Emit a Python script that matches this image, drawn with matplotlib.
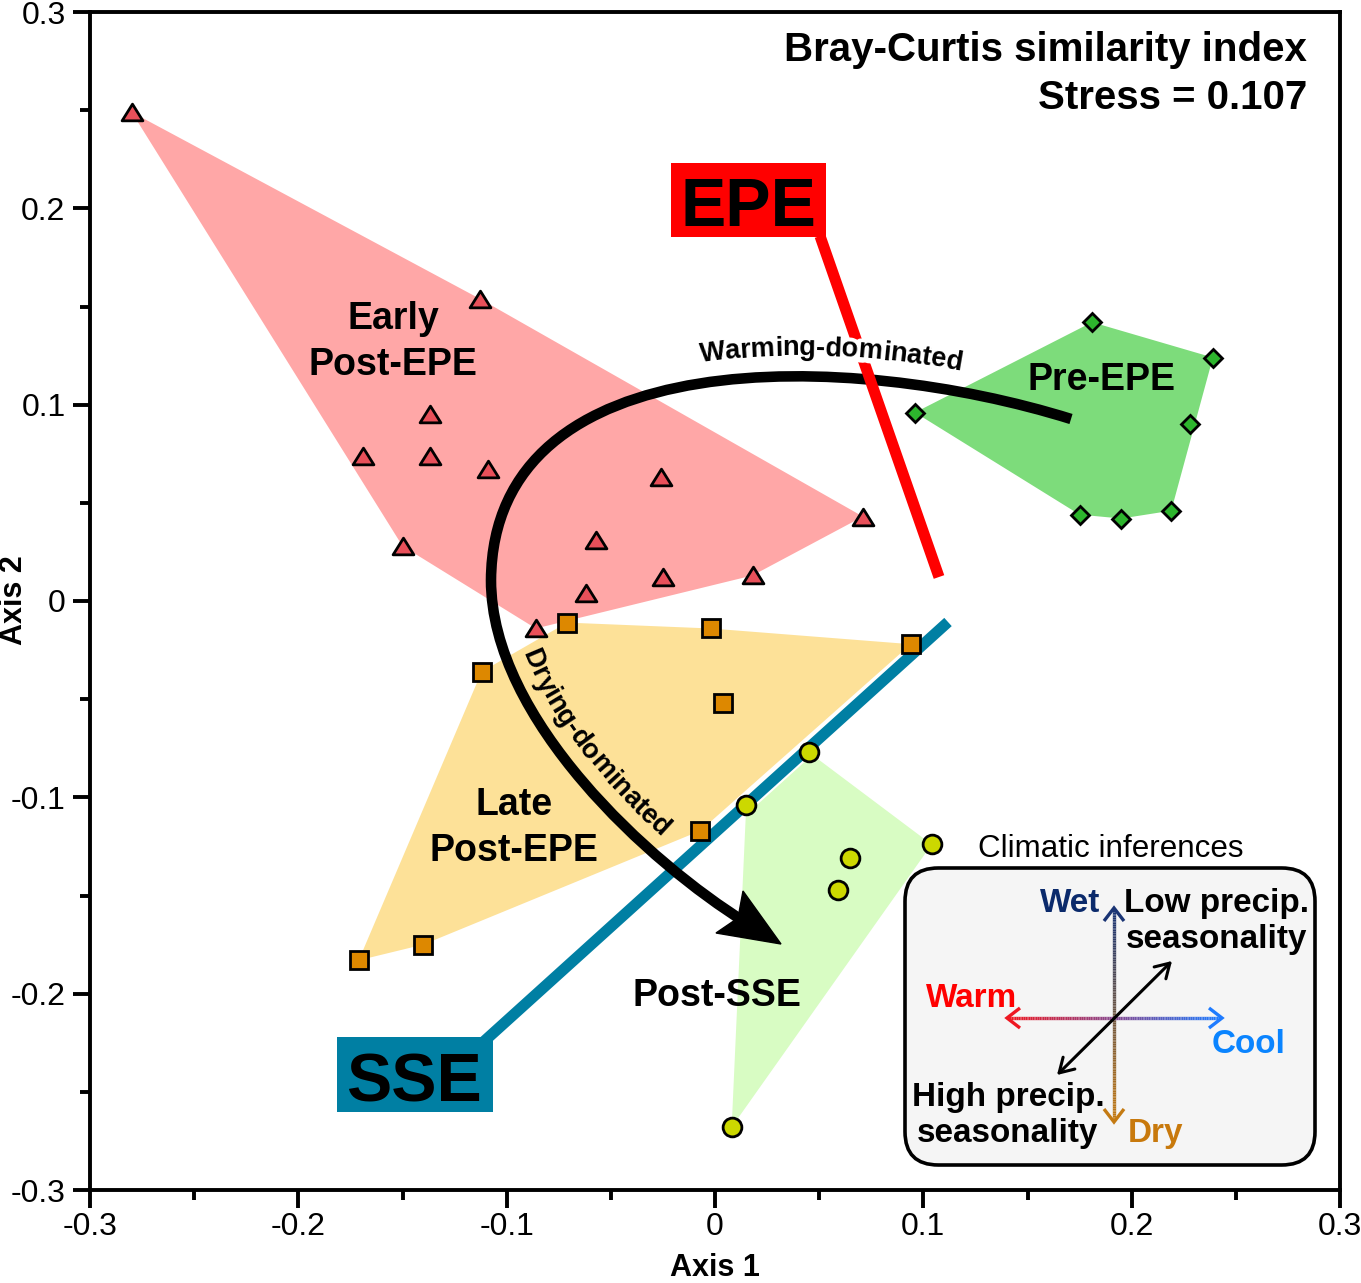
import numpy as np
import matplotlib
matplotlib.use("Agg")
import matplotlib.pyplot as plt
import matplotlib.patheffects as pe
from matplotlib.path import Path
from matplotlib.patches import PathPatch, Polygon, Rectangle, FancyBboxPatch
from matplotlib.collections import LineCollection
from matplotlib.textpath import TextToPath
from matplotlib.font_manager import FontProperties, fontManager
from matplotlib.colors import to_rgb

# ---------------- data ----------------
EARLY_X = [-0.280, -0.113, -0.137, -0.169, -0.137, -0.109, -0.150, -0.026, -0.057, 0.071, -0.062, -0.025, 0.018, -0.086]
EARLY_Y = [0.249, 0.154, 0.095, 0.074, 0.074, 0.067, 0.028, 0.063, 0.031, 0.043, 0.004, 0.012, 0.013, -0.014]
LATE_X = [-0.071, -0.002, 0.094, -0.112, 0.004, -0.007, -0.140, -0.171]
LATE_Y = [-0.011, -0.014, -0.022, -0.036, -0.052, -0.117, -0.175, -0.183]
POST_X = [0.045, 0.015, 0.104, 0.065, 0.059, 0.008]
POST_Y = [-0.077, -0.104, -0.124, -0.131, -0.147, -0.268]
PRE_X = [0.181, 0.239, 0.096, 0.228, 0.175, 0.195, 0.219]
PRE_Y = [0.142, 0.124, 0.096, 0.090, 0.044, 0.042, 0.046]

X_TICKS = [-0.3, -0.2, -0.1, 0.0, 0.1, 0.2, 0.3]
X_TICK_LABELS = ["-0.3", "-0.2", "-0.1", "0", "0.1", "0.2", "0.3"]
Y_TICKS = [-0.3, -0.2, -0.1, 0.0, 0.1, 0.2, 0.3]
Y_TICK_LABELS = ["-0.3", "-0.2", "-0.1", "0", "0.1", "0.2", "0.3"]
MINOR_TICKS = [-0.25, -0.15, -0.05, 0.05, 0.15, 0.25]

STAT_LINES = ["Bray-Curtis similarity index", "Stress = 0.107"]

# ---------------- figure ----------------
W, H, DPI = 1361, 1283, 100
plt.rcParams['font.family'] = ['Liberation Sans', 'DejaVu Sans']
fig = plt.figure(figsize=(W / DPI, H / DPI), dpi=DPI)
AX_L, AX_R, AX_T, AX_B = 90, 1340, 12, 1190
ax = fig.add_axes([AX_L / W, 1 - AX_B / H, (AX_R - AX_L) / W, (AX_B - AX_T) / H])
XMIN, XMAX, YMIN, YMAX = -0.3, 0.3, -0.3, 0.3
ax.set_xlim(XMIN, XMAX)
ax.set_ylim(YMIN, YMAX)


def px2d(px, py):
    return (XMIN + (px - AX_L) / (AX_R - AX_L) * (XMAX - XMIN),
            YMAX - (py - AX_T) / (AX_B - AX_T) * (YMAX - YMIN))


names = {f.name for f in fontManager.ttflist}
HAS_NARROW = 'Liberation Sans Narrow' in names


def narrow_bold(size, fallback=0.84):
    if HAS_NARROW:
        return FontProperties(family='Liberation Sans Narrow', weight='bold', size=size)
    return FontProperties(family='Liberation Sans', weight='bold', size=size * fallback)


# ---------------- hulls ----------------
def hull(xs, ys):
    pts = sorted(set(zip(xs, ys)))

    def cross(o, a, b):
        return (a[0] - o[0]) * (b[1] - o[1]) - (a[1] - o[1]) * (b[0] - o[0])
    lower, upper = [], []
    for p in pts:
        while len(lower) >= 2 and cross(lower[-2], lower[-1], p) <= 0:
            lower.pop()
        lower.append(p)
    for p in reversed(pts):
        while len(upper) >= 2 and cross(upper[-2], upper[-1], p) <= 0:
            upper.pop()
        upper.append(p)
    return lower[:-1] + upper[:-1]


for xs, ys, col in [(EARLY_X, EARLY_Y, '#FFA7A7'), (LATE_X, LATE_Y, '#FDE198'),
                    (PRE_X, PRE_Y, '#7DDC7B'), (POST_X, POST_Y, '#D8FCC3')]:
    ax.add_patch(Polygon(hull(xs, ys), closed=True, facecolor=col, edgecolor='none', zorder=1))

# ---------------- EPE / SSE lines ----------------
e0, e1 = px2d(820, 236), px2d(939, 577)
ax.plot([e0[0], e1[0]], [e0[1], e1[1]], color='#FF0000', lw=8, solid_capstyle='butt', zorder=3.5)
s0, s1 = px2d(948, 622), px2d(480, 1045)
ax.plot([s0[0], s1[0]], [s0[1], s1[1]], color='#007FA3', lw=8, solid_capstyle='butt', zorder=2,
        path_effects=[pe.Stroke(linewidth=11, foreground='white'), pe.Normal()])

# ---------------- curved arrow ----------------
P0, C1, C2, P3 = (1071, 419), (850, 350), (493, 340), (491, 580)
D1, D2, P4 = (491, 720), (651.6, 864), (745, 922)
verts = [px2d(*p) for p in [P0, C1, C2, P3, D1, D2, P4]]
codes = [Path.MOVETO] + [Path.CURVE4] * 6
ax.add_patch(PathPatch(Path(verts, codes), facecolor='none', edgecolor='black', lw=7.6,
                       capstyle='butt', zorder=3))
head = [px2d(*p) for p in [(781, 944), (716, 933), (738, 918), (743, 891)]]
ax.add_patch(Polygon(head, closed=True, facecolor='black', edgecolor='black', lw=1, zorder=3))


def bez(p0, p1, p2, p3, n=800):
    p0, p1, p2, p3 = map(np.asarray, (p0, p1, p2, p3))
    t = np.linspace(0, 1, n)[:, None]
    return ((1 - t) ** 3) * p0 + 3 * ((1 - t) ** 2) * t * p1 + 3 * (1 - t) * (t ** 2) * p2 + (t ** 3) * p3


TTP = TextToPath()


def wpx(s, fp):
    if not s:
        return 0.0
    w, _, _ = TTP.get_text_width_height_descent(s, fp, ismath=False)
    return w * DPI / 72.0


def offset_curve(pts, off):
    g = np.gradient(pts, axis=0)
    g = g / np.hypot(g[:, 0], g[:, 1])[:, None]
    n = np.stack([g[:, 1], -g[:, 0]], axis=1)
    return pts + off * n


def text_on_curve(s, pts, start, fp, color='black', halo=False, z=6):
    d = np.diff(pts, axis=0)
    cum = np.concatenate([[0.0], np.cumsum(np.hypot(d[:, 0], d[:, 1]))])
    i0 = np.argmin(np.hypot(pts[:, 0] - start[0], pts[:, 1] - start[1]))
    s0 = cum[i0]
    for k, ch in enumerate(s):
        sc = s0 + 0.5 * (wpx(s[:k], fp) + wpx(s[:k + 1], fp))
        x = np.interp(sc, cum, pts[:, 0])
        y = np.interp(sc, cum, pts[:, 1])
        xa, ya = np.interp(sc - 3, cum, pts[:, 0]), np.interp(sc - 3, cum, pts[:, 1])
        xb, yb = np.interp(sc + 3, cum, pts[:, 0]), np.interp(sc + 3, cum, pts[:, 1])
        ang = np.degrees(np.arctan2(-(yb - ya), xb - xa))
        dx, dy = px2d(x, y)
        kw = dict(rotation=ang, rotation_mode='anchor', ha='center', va='baseline', fontproperties=fp)
        if halo:
            ax.text(dx, dy, ch, color='white', zorder=z - 0.5,
                    path_effects=[pe.withStroke(linewidth=7, foreground='white')], **kw)
        ax.text(dx, dy, ch, color=color, zorder=z, **kw)


seg1 = bez(P0, C1, C2, P3)[::-1]
seg2 = bez(P3, D1, D2, P4)
text_on_curve("Warming-dominated", offset_curve(seg1, 21), (700, 360), narrow_bold(23, 0.85), halo=True)
text_on_curve("Drying-dominated", offset_curve(seg2, 17), (526, 652), narrow_bold(23, 0.85))

# ---------------- markers ----------------
tri = Path([(-1, -0.8), (1, -0.8), (0, 0.8), (0, 0)],
           [Path.MOVETO, Path.LINETO, Path.LINETO, Path.CLOSEPOLY])
ax.plot(EARLY_X, EARLY_Y, ls='none', marker=tri, ms=15, mfc='#E8505A', mec='black', mew=2.0, zorder=4)
ax.plot(LATE_X, LATE_Y, ls='none', marker='s', ms=12.7, mfc='#DD8800', mec='black', mew=2.0, zorder=4)
ax.plot(POST_X, POST_Y, ls='none', marker='o', ms=13.5, mfc='#CCD800', mec='black', mew=2.0, zorder=4)
ax.plot(PRE_X, PRE_Y, ls='none', marker='D', ms=8.7, mfc='#2DB52D', mec='black', mew=2.0, zorder=4)

# ---------------- group labels ----------------
GB = dict(fontsize=27, fontweight='bold', ha='center', va='baseline', zorder=4.5)
for txt, px, py in [("Early", 393, 329), ("Post-EPE", 393, 374.6), ("Pre-EPE", 1102, 390),
                    ("Late", 514, 815), ("Post-EPE", 514, 861), ("Post-SSE", 717, 1006)]:
    ax.text(*px2d(px, py), txt, **GB)

# stats text
ax.text(*px2d(1307, 61), STAT_LINES[0], fontsize=29, fontweight='bold', ha='right', va='baseline')
ax.text(*px2d(1307, 109), STAT_LINES[1], fontsize=29, fontweight='bold', ha='right', va='baseline')

# ---------------- EPE / SSE boxes ----------------
for (x0, y0, x1, y1), col, lab, bx, by in [((670.7, 163, 825.7, 237), '#FF0000', 'EPE', 748, 226),
                                           ((336.7, 1037, 492.7, 1111.7), '#007FA3', 'SSE', 414, 1101.5)]:
    a = px2d(x0, y1)
    b = px2d(x1, y0)
    ax.add_patch(Rectangle(a, b[0] - a[0], b[1] - a[1], facecolor=col, edgecolor='none', zorder=7))
    ax.text(*px2d(bx, by), lab, fontsize=49, fontweight='bold', ha='center', va='baseline', zorder=8)

# ---------------- climatic inference legend ----------------
ax.text(*px2d(978, 857), "Climatic inferences", fontsize=22.6, ha='left', va='baseline', zorder=6)
a = px2d(905, 1165)
b = px2d(1315, 868)
ax.add_patch(FancyBboxPatch(a, b[0] - a[0], b[1] - a[1],
                            boxstyle='round,pad=0,rounding_size=0.016', mutation_aspect=1.06,
                            facecolor='#F5F5F5', edgecolor='black', lw=2.6, zorder=5))


def grad_line(p_start, p_end, c_start, c_end, n=120, lw=2.4):
    xs = np.linspace(p_start[0], p_end[0], n + 1)
    ys = np.linspace(p_start[1], p_end[1], n + 1)
    pts = np.array([px2d(x, y) for x, y in zip(xs, ys)])
    segs = np.stack([pts[:-1], pts[1:]], axis=1)
    ca, cb = np.array(to_rgb(c_start)), np.array(to_rgb(c_end))
    f = np.linspace(0, 1, n)[:, None]
    ax.add_collection(LineCollection(segs, colors=ca * (1 - f) + cb * f, linewidths=lw,
                                     capstyle='butt', zorder=6))


def chevron(tip, direc, color, L=13, Wd=10, lw=2.4):
    tx, ty = tip
    dx, dy = direc
    nx, ny = -dy, dx
    p1 = (tx - L * dx + Wd * nx, ty - L * dy + Wd * ny)
    p2 = (tx - L * dx - Wd * nx, ty - L * dy - Wd * ny)
    pts = [px2d(*p1), px2d(tx, ty), px2d(*p2)]
    ax.plot([p[0] for p in pts], [p[1] for p in pts], color=color, lw=lw,
            solid_joinstyle='miter', solid_capstyle='butt', zorder=6.2)


NAVY, BROWN, RED, BLUE = '#1A3474', '#C47A12', '#EE1822', '#1E7BFF'
grad_line((1114, 910), (1114, 1120), NAVY, BROWN)
grad_line((1009, 1018), (1220, 1018), RED, BLUE)
chevron((1114, 908), (0, -1), NAVY)
chevron((1114, 1122), (0, 1), BROWN)
chevron((1007, 1018), (-1, 0), RED)
chevron((1222, 1018), (1, 0), BLUE)
ax.annotate('', xy=px2d(1172, 961), xytext=px2d(1057, 1075),
            arrowprops=dict(arrowstyle='<->,head_length=0.5,head_width=0.3', lw=2.2, color='black',
                            shrinkA=0, shrinkB=0, mutation_scale=20), zorder=6)

LF = narrow_bold(26.6, 0.9)
for txt, px, py, col in [("Wet", 1070, 911.7, '#0B2A6B'),
                         ("Low precip.", 1216.5, 911.7, 'black'),
                         ("seasonality", 1216.5, 948, 'black'),
                         ("Warm", 971.5, 1006.7, '#FF0000'),
                         ("Cool", 1249, 1053, '#0A84FF'),
                         ("High precip.", 1008, 1106, 'black'),
                         ("seasonality", 1008, 1141.7, 'black'),
                         ("Dry", 1155.5, 1141.7, '#C8790C')]:
    ax.text(*px2d(px, py), txt, fontproperties=LF, color=col, ha='center', va='baseline', zorder=6.5)

# ---------------- axes styling ----------------
ax.set_xticks(X_TICKS)
ax.set_xticklabels(X_TICK_LABELS)
ax.set_yticks(Y_TICKS)
ax.set_yticklabels(Y_TICK_LABELS)
ax.set_xticks(MINOR_TICKS, minor=True)
ax.set_yticks(MINOR_TICKS, minor=True)
ax.tick_params(which='major', length=12.6, width=2.8, direction='out', labelsize=23, colors='black')
ax.tick_params(which='minor', length=7, width=2.8, direction='out')
ax.tick_params(axis='x', which='major', pad=3.5)
ax.tick_params(axis='y', which='major', pad=5)
for sp in ax.spines.values():
    sp.set_linewidth(2.8)
    sp.set_zorder(10)

fig.text(715 / W, 1 - 1276 / H, "Axis 1", fontsize=22, fontweight='bold', ha='center', va='baseline')
fig.text(14 / W, 1 - 600 / H, "Axis 2", fontsize=22, fontweight='bold', ha='center', va='center',
         rotation=90)

fig.savefig('out.png', dpi=DPI)
